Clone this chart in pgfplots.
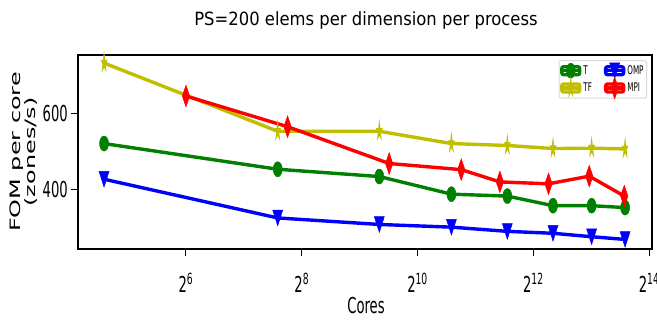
\documentclass[border=0pt]{standalone}
\usepackage{fontspec}
\setmainfont{DejaVu Sans}
\newfontfamily\cond{DejaVu Sans}[FakeStretch=0.6]
\newfontfamily\titlef{DejaVu Sans}[FakeStretch=0.9]
\usepackage{graphicx}
\usepackage{pgfplots}
\pgfplotsset{compat=1.18}
\definecolor{mgreen}{RGB}{0,128,0}
\definecolor{myellow}{RGB}{191,191,0}
\definecolor{mblue}{RGB}{0,0,255}
\definecolor{mred}{RGB}{255,0,0}

\pgfdeclareplotmark{ell}{%
  \pgfpathellipse{\pgfpointorigin}{\pgfqpoint{0.6\pgfplotmarksize}{0pt}}{\pgfqpoint{0pt}{\pgfplotmarksize}}%
  \pgfusepathqfillstroke}
\pgfdeclareplotmark{tridown}{%
  \pgfpathmoveto{\pgfqpoint{-0.64\pgfplotmarksize}{\pgfplotmarksize}}%
  \pgfpathlineto{\pgfqpoint{0.64\pgfplotmarksize}{\pgfplotmarksize}}%
  \pgfpathlineto{\pgfqpoint{0pt}{-\pgfplotmarksize}}%
  \pgfpathclose\pgfusepathqfillstroke}
\pgfdeclareplotmark{thind}{%
  \pgfpathmoveto{\pgfqpoint{0pt}{\pgfplotmarksize}}%
  \pgfpathlineto{\pgfqpoint{0.34\pgfplotmarksize}{0pt}}%
  \pgfpathlineto{\pgfqpoint{0pt}{-\pgfplotmarksize}}%
  \pgfpathlineto{\pgfqpoint{-0.34\pgfplotmarksize}{0pt}}%
  \pgfpathclose\pgfusepathqfillstroke}
\pgfdeclareplotmark{fstar}{%
  \pgfpathmoveto{\pgfqpoint{0pt}{\pgfplotmarksize}}%
  \pgfpathlineto{\pgfqpoint{0.125\pgfplotmarksize}{0.309\pgfplotmarksize}}%
  \pgfpathlineto{\pgfqpoint{0.533\pgfplotmarksize}{0.309\pgfplotmarksize}}%
  \pgfpathlineto{\pgfqpoint{0.203\pgfplotmarksize}{-0.118\pgfplotmarksize}}%
  \pgfpathlineto{\pgfqpoint{0.329\pgfplotmarksize}{-0.809\pgfplotmarksize}}%
  \pgfpathlineto{\pgfqpoint{0pt}{-0.382\pgfplotmarksize}}%
  \pgfpathlineto{\pgfqpoint{-0.329\pgfplotmarksize}{-0.809\pgfplotmarksize}}%
  \pgfpathlineto{\pgfqpoint{-0.203\pgfplotmarksize}{-0.118\pgfplotmarksize}}%
  \pgfpathlineto{\pgfqpoint{-0.533\pgfplotmarksize}{0.309\pgfplotmarksize}}%
  \pgfpathlineto{\pgfqpoint{-0.125\pgfplotmarksize}{0.309\pgfplotmarksize}}%
  \pgfpathclose\pgfusepathqfillstroke}

\begin{document}
\begin{tikzpicture}
\begin{axis}[
  at={(0,0)}, anchor=south west,
  scale only axis, width=574bp, height=194bp,
  xmode=log, log basis x=2,
  xmin=17.57, xmax=16962,
  ymin=246, ymax=752,
  xtick={64,256,1024,4096,16384},
  xticklabels={2\textsuperscript{6},2\textsuperscript{8},2\textsuperscript{10},2\textsuperscript{12},2\textsuperscript{14}},
  ytick={400,600}, yticklabels={400,600},
  minor tick num=0,
  tick pos=left,
  tick align=outside, major tick length=7bp,
  tick style={black, line width=1bp},
  axis line style={black, line width=1.2bp},
  xticklabel style={font=\fontsize{22}{24}\cond, anchor=base, inner sep=0pt, yshift=-36bp},
  yticklabel style={font=\fontsize{22}{24}\cond, anchor=base east, inner sep=0pt, yshift=-8bp, xshift=-3bp},
  legend columns=2,
  legend cell align=left,
  legend style={at={(axis description cs:0.9913,0.974)}, anchor=north east,
    draw=black!15, line width=1bp, rounded corners=2bp,
    font=\fontsize{12}{14}\cond, inner xsep=1bp, inner ysep=3bp, row sep=3bp,
    /tikz/every even column/.append style={column sep=10bp}},
  legend image code/.code={%
    \begin{pgfinterruptboundingbox}
    \draw[mark repeat=2,mark phase=2,#1] plot coordinates {(0bp,0bp) (9bp,0bp) (18bp,0bp)};
    \end{pgfinterruptboundingbox}
    \path (0bp,-4bp) rectangle (18bp,4bp);},
  every axis plot/.append style={line width=3.4bp},
]
\addplot[color=mgreen, mark=ell, mark size=7.5bp, mark options={line width=0.5bp}] coordinates {
 (24,521) (192,454) (648,435) (1536,389) (3000,384) (5184,359) (8232,359) (12288,354)};
\addlegendentry{T}
\addplot[color=mblue, mark=tridown, mark size=7.8bp, mark options={line width=0.5bp}] coordinates {
 (24,428) (192,327) (648,310) (1536,303) (3000,292) (5184,287) (8232,278) (12288,271)};
\addlegendentry{OMP}
\addplot[color=myellow, mark=fstar, mark size=9bp, mark options={line width=0.8bp, xscale=0.6}] coordinates {
 (24,731) (192,553) (648,553) (1536,521) (3000,516) (5184,508) (8232,509) (12288,507)};
\addlegendentry{TF}
\addplot[color=mred, mark=thind, mark size=10.8bp, mark options={line width=0.5bp}] coordinates {
 (64,645) (216,565) (729,469) (1728,453) (2744,421) (4913,416) (8000,436) (12167,384)};
\addlegendentry{MPI}
\end{axis}
\node[anchor=base, font=\fontsize{18.3}{20}\titlef] at (288bp,223.3bp) {PS=200 elems per dimension per process};
\node[anchor=base, font=\fontsize{22}{24}\cond] at (288bp,-64bp) {Cores};
\node[rotate=90] at (-53.7bp,97bp) {\scalebox{1}[0.6]{\fontsize{24}{20}\selectfont\begin{tabular}{@{}c@{}}FOM per core\\(zones/s)\end{tabular}}};
\pgfresetboundingbox
\useasboundingbox (-78bp,-74bp) rectangle (579bp,249bp);
\end{tikzpicture}
\end{document}
